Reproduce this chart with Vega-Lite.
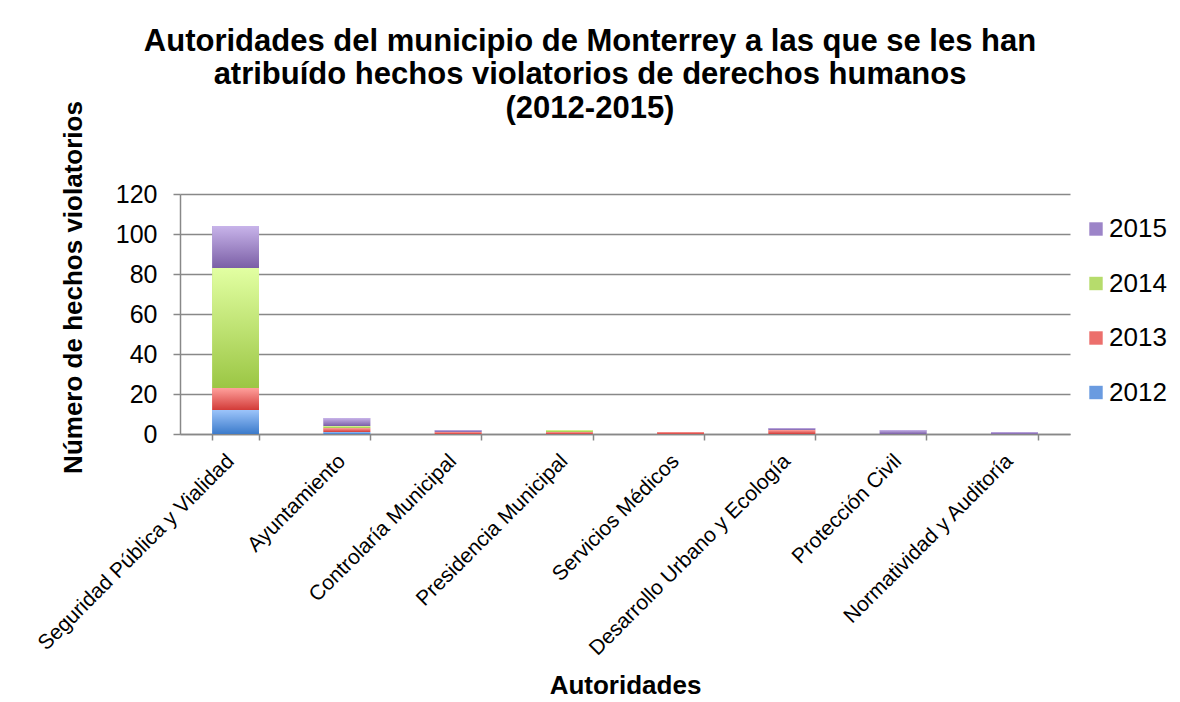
{
  "$schema": "https://vega.github.io/schema/vega-lite/v6.json",
  "width": 890,
  "height": 240,
  "autosize": {"type": "none"},
  "padding": {"left": 180, "top": 194, "right": 110, "bottom": 268},
  "background": "white",
  "title": {
    "text": ["Autoridades del municipio de Monterrey a las que se les han", "atribuído hechos violatorios de derechos humanos", "(2012-2015)"],
    "font": "Liberation Sans",
    "fontSize": 31,
    "fontWeight": "bold",
    "lineHeight": 33.3,
    "color": "black",
    "anchor": "middle",
    "frame": "group",
    "dx": -35,
    "dy": 34,
    "offset": 10
  },
  "data": {
    "values": [
      {"autoridad": "Seguridad Pública y Vialidad", "year": "2012", "value": 12},
      {"autoridad": "Seguridad Pública y Vialidad", "year": "2013", "value": 11},
      {"autoridad": "Seguridad Pública y Vialidad", "year": "2014", "value": 60},
      {"autoridad": "Seguridad Pública y Vialidad", "year": "2015", "value": 21},
      {"autoridad": "Ayuntamiento", "year": "2012", "value": 1},
      {"autoridad": "Ayuntamiento", "year": "2013", "value": 2},
      {"autoridad": "Ayuntamiento", "year": "2014", "value": 1},
      {"autoridad": "Ayuntamiento", "year": "2015", "value": 4},
      {"autoridad": "Controlaría Municipal", "year": "2013", "value": 1},
      {"autoridad": "Controlaría Municipal", "year": "2015", "value": 1},
      {"autoridad": "Presidencia Municipal", "year": "2013", "value": 1},
      {"autoridad": "Presidencia Municipal", "year": "2014", "value": 1},
      {"autoridad": "Servicios Médicos", "year": "2013", "value": 1},
      {"autoridad": "Desarrollo Urbano y Ecología", "year": "2013", "value": 2},
      {"autoridad": "Desarrollo Urbano y Ecología", "year": "2015", "value": 1},
      {"autoridad": "Protección Civil", "year": "2015", "value": 2},
      {"autoridad": "Normatividad y Auditoría", "year": "2015", "value": 1}
    ]
  },
  "transform": [
    {"stack": "value", "groupby": ["autoridad"], "sort": [{"field": "year", "order": "ascending"}], "as": ["y0", "y1"]}
  ],
  "encoding": {
    "x": {
      "field": "autoridad",
      "type": "nominal",
      "sort": ["Seguridad Pública y Vialidad", "Ayuntamiento", "Controlaría Municipal", "Presidencia Municipal", "Servicios Médicos", "Desarrollo Urbano y Ecología", "Protección Civil", "Normatividad y Auditoría"],
      "scale": {"paddingInner": 0.58, "paddingOuter": 0.29},
      "axis": {
        "title": "Autoridades",
        "titleFont": "Liberation Sans",
        "titleFontSize": 26,
        "titleFontWeight": "bold",
        "titleColor": "black",
        "titleBaseline": "alphabetic",
        "titleY": 259,
        "labelAngle": -45,
        "labelFont": "Liberation Sans",
        "labelFontSize": 21,
        "labelColor": "black",
        "labelLimit": 0,
        "labelPadding": 10,
        "labelOffset": -13,
        "tickBand": "extent",
        "tickColor": "#888888",
        "tickWidth": 1.5,
        "tickSize": 6,
        "domainColor": "#888888",
        "domainWidth": 1.5,
        "grid": false
      }
    },
    "y": {
      "field": "y0",
      "type": "quantitative",
      "scale": {"domain": [0, 120]},
      "axis": {
        "title": "Número de hechos violatorios",
        "titleFont": "Liberation Sans",
        "titleFontSize": 26,
        "titleFontWeight": "bold",
        "titleColor": "black",
        "titleAngle": -90,
        "titleAlign": "center",
        "titleBaseline": "bottom",
        "titleX": -94,
        "titleY": 93,
        "values": [0, 20, 40, 60, 80, 100, 120],
        "labelFont": "Liberation Sans",
        "labelFontSize": 25,
        "labelColor": "black",
        "labelPadding": 16,
        "tickColor": "#888888",
        "tickWidth": 1.5,
        "tickSize": 7,
        "domainColor": "#888888",
        "domainWidth": 1.5,
        "gridColor": "#888888",
        "gridWidth": 1.5
      }
    },
    "y2": {"field": "y1"}
  },
  "layer": [
    {
      "mark": {"type": "bar"},
      "encoding": {
        "color": {
          "field": "year",
          "type": "nominal",
          "scale": {"domain": ["2015", "2014", "2013", "2012"], "range": ["#9c84c8", "#b6dc6c", "#ec6f6c", "#6a9be0"]},
          "legend": {
            "title": null,
            "orient": "none",
            "legendX": 903,
            "legendY": 22,
            "symbolType": "square",
            "symbolSize": 180,
            "symbolStrokeWidth": 0,
            "labelFont": "Liberation Sans",
            "labelFontSize": 26,
            "labelColor": "black",
            "labelOffset": 0,
            "rowPadding": 28.5
          }
        }
      }
    },
    {
      "transform": [{"filter": "datum.year === '2012'"}],
      "mark": {"type": "bar", "fill": {"gradient": "linear", "x1": 0, "y1": 0, "x2": 0, "y2": 1, "stops": [{"offset": 0, "color": "#9cc4fa"}, {"offset": 1, "color": "#3c7bcb"}]}}
    },
    {
      "transform": [{"filter": "datum.year === '2013'"}],
      "mark": {"type": "bar", "fill": {"gradient": "linear", "x1": 0, "y1": 0, "x2": 0, "y2": 1, "stops": [{"offset": 0, "color": "#ffa09c"}, {"offset": 1, "color": "#d23b38"}]}}
    },
    {
      "transform": [{"filter": "datum.year === '2014'"}],
      "mark": {"type": "bar", "fill": {"gradient": "linear", "x1": 0, "y1": 0, "x2": 0, "y2": 1, "stops": [{"offset": 0, "color": "#e2ffa2"}, {"offset": 1, "color": "#9bc644"}]}}
    },
    {
      "transform": [{"filter": "datum.year === '2015'"}],
      "mark": {"type": "bar", "fill": {"gradient": "linear", "x1": 0, "y1": 0, "x2": 0, "y2": 1, "stops": [{"offset": 0, "color": "#c8b4ea"}, {"offset": 1, "color": "#7b5fa6"}]}}
    }
  ],
  "config": {
    "view": {"stroke": null},
    "font": "Liberation Sans"
  }
}
